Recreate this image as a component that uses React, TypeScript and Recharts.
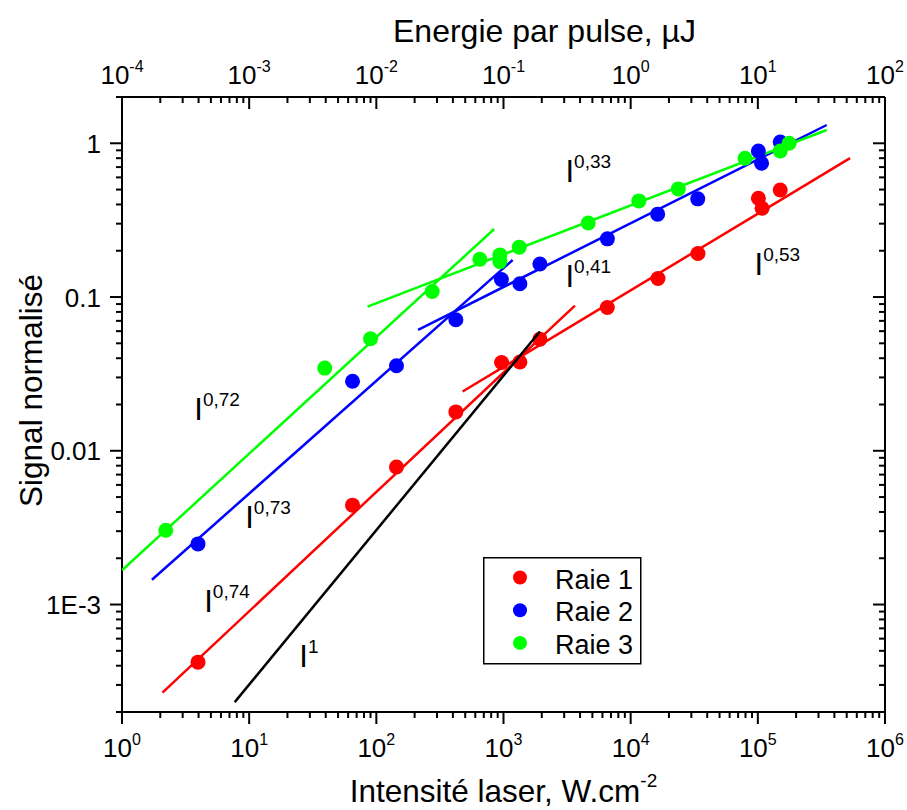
import React from 'react';
import { ScatterChart, Scatter, XAxis, YAxis, ReferenceDot, Legend } from 'recharts';

const FONT = '"Liberation Sans", Arial, Helvetica, sans-serif';

// ---- measured points (intensity W/cm², normalised signal) ----
const raie1 = [
  { x: 3.96, y: 4.22e-4 }, { x: 65, y: 4.43e-3 }, { x: 144, y: 7.85e-3 }, { x: 422, y: 0.0179 },
  { x: 966, y: 0.0375 }, { x: 1345, y: 0.0378 }, { x: 1933, y: 0.0532 }, { x: 6550, y: 0.0855 },
  { x: 16400, y: 0.132 }, { x: 33800, y: 0.192 }, { x: 101000, y: 0.439 }, { x: 108000, y: 0.378 },
  { x: 150000, y: 0.497 },
];
const raie2 = [
  { x: 3.96, y: 2.48e-3 }, { x: 65, y: 0.0283 }, { x: 144, y: 0.0357 }, { x: 422, y: 0.0711 },
  { x: 963, y: 0.13 }, { x: 1345, y: 0.122 }, { x: 1933, y: 0.164 }, { x: 6560, y: 0.239 },
  { x: 16300, y: 0.346 }, { x: 33700, y: 0.435 }, { x: 101000, y: 0.891 }, { x: 107000, y: 0.741 },
  { x: 150000, y: 1.02 },
];
const raie3 = [
  { x: 2.21, y: 3.04e-3 }, { x: 39.3, y: 0.0345 }, { x: 90, y: 0.0535 }, { x: 275, y: 0.1086 },
  { x: 652, y: 0.176 }, { x: 937, y: 0.188 }, { x: 937, y: 0.17 }, { x: 1330, y: 0.211 },
  { x: 4640, y: 0.303 }, { x: 11600, y: 0.422 }, { x: 23700, y: 0.505 }, { x: 79300, y: 0.8 },
  { x: 150000, y: 0.891 }, { x: 176000, y: 1.0 },
];

// ---- power-law fit segments (end points) ----
const fitRedLow = [{ x: 2.08, y: 2.67e-4 }, { x: 3645, y: 0.088 }];
const fitRedHigh = [{ x: 477, y: 0.0243 }, { x: 531000, y: 0.8 }];
const fitBlueLow = [{ x: 1.72, y: 1.45e-3 }, { x: 1180, y: 0.174 }];
const fitBlueHigh = [{ x: 213, y: 0.0612 }, { x: 348000, y: 1.315 }];
const fitGreenLow = [{ x: 1.0, y: 1.67e-3 }, { x: 845, y: 0.277 }];
const fitGreenHigh = [{ x: 85.3, y: 0.0867 }, { x: 348000, y: 1.22 }];
const fitLinear = [{ x: 7.7, y: 2.32e-4 }, { x: 1933, y: 0.0597 }];

// ---- slope annotations ----
const slopeLabels = [
  { x: 3070, y: 0.56, exp: '0,33' },
  { x: 3070, y: 0.1165, exp: '0,41' },
  { x: 94200, y: 0.1394, exp: '0,53' },
  { x: 3.7, y: 0.01592, exp: '0,72' },
  { x: 9.31, y: 3.16e-3, exp: '0,73' },
  { x: 4.43, y: 9.0e-4, exp: '0,74' },
  { x: 24.8, y: 3.9e-4, exp: '1' },
];

// ---- axes ----
const xDomain = [1, 1e6];
const topDomain = [1e-4, 1e2];
const yDomain = [2e-4, 2];
const xMajorTicks = [1, 10, 100, 1e3, 1e4, 1e5, 1e6];
const xMajorExponents = ['0', '1', '2', '3', '4', '5', '6'];
const topMajorTicks = [1e-4, 1e-3, 1e-2, 1e-1, 1, 10, 100];
const topMajorExponents = ['-4', '-3', '-2', '-1', '0', '1', '2'];
const yMajorTicks = [1e-3, 1e-2, 0.1, 1];
const yMajorLabels = ['1E-3', '0.01', '0.1', '1'];
const minorMultipliers = [1, 2, 3, 4, 5, 6, 7, 8, 9];

const legendItems = [
  { name: 'Raie 1', color: '#ff0000' },
  { name: 'Raie 2', color: '#0000ff' },
  { name: 'Raie 3', color: '#00ff00' },
];

function allTicks(majors: number[], lo: number, hi: number) {
  const decades = [majors[0] / 10, ...majors];
  const out: number[] = [];
  decades.forEach((d) =>
    minorMultipliers.forEach((m) => {
      const v = d * m;
      if (v >= lo * (1 - 1e-9) && v <= hi * (1 + 1e-9)) out.push(v);
    })
  );
  return out.sort((a, b) => a - b);
}

function majorIndex(v: number, majors: number[]) {
  return majors.findIndex((t) => Math.abs(Math.log10(t) - Math.log10(v)) < 1e-6);
}

const BIG = 12;
const SMALL = 6;
const TICK_FS = 26;
const EXP_FS = 16;

const BottomTick = (props: any) => {
  const { x, y, payload } = props;
  const idx = majorIndex(payload.value, xMajorTicks);
  const major = idx >= 0;
  return (
    <g>
      <line x1={x} y1={y} x2={x} y2={y + (major ? BIG : SMALL)} stroke="#000" strokeWidth={2} />
      {major && (
        <text x={x} y={y + 45} textAnchor="middle" fontFamily={FONT} fontSize={TICK_FS} fill="#000">
          10<tspan dy={-12} fontSize={EXP_FS}>{xMajorExponents[idx]}</tspan>
        </text>
      )}
    </g>
  );
};

const TopTick = (props: any) => {
  const { x, y, payload } = props;
  const idx = majorIndex(payload.value, topMajorTicks);
  const major = idx >= 0;
  return (
    <g>
      <line x1={x} y1={y} x2={x} y2={y + (major ? BIG : SMALL)} stroke="#000" strokeWidth={2} />
      {major && (
        <text x={x} y={y - 13} textAnchor="middle" fontFamily={FONT} fontSize={TICK_FS} fill="#000">
          10<tspan dy={-12} fontSize={EXP_FS}>{topMajorExponents[idx]}</tspan>
        </text>
      )}
    </g>
  );
};

const LeftTick = (props: any) => {
  const { x, y, payload } = props;
  const idx = majorIndex(payload.value, yMajorTicks);
  const major = idx >= 0;
  return (
    <g>
      <line x1={x} y1={y} x2={x - (major ? BIG : SMALL)} y2={y} stroke="#000" strokeWidth={2} />
      {major && (
        <text x={x - 21} y={y + 9.5} textAnchor="end" fontFamily={FONT} fontSize={TICK_FS} fill="#000">
          {yMajorLabels[idx]}
        </text>
      )}
    </g>
  );
};

const RightTick = (props: any) => {
  const { x, y, payload } = props;
  const major = majorIndex(payload.value, yMajorTicks) >= 0;
  return <line x1={x} y1={y} x2={x - (major ? BIG : SMALL)} y2={y} stroke="#000" strokeWidth={2} />;
};

const BottomTitle = (props: any) => {
  const { x, y, width } = props.viewBox;
  return (
    <text x={x + width / 2} y={y + 90} textAnchor="middle" fontFamily={FONT} fontSize={31.5} fill="#000">
      Intensité laser, W.cm<tspan dy={-15} fontSize={19}>-2</tspan>
    </text>
  );
};

const TopTitle = (props: any) => {
  const { x } = props.viewBox;
  return (
    <text x={x + 271} y={42} textAnchor="start" fontFamily={FONT} fontSize={32} fill="#000">
      Energie par pulse, µJ
    </text>
  );
};

const LeftTitle = (props: any) => {
  const { y, height } = props.viewBox;
  const cy = y + height / 2 - 14;
  return (
    <text
      x={42}
      y={cy}
      transform={`rotate(-90, 42, ${cy})`}
      textAnchor="middle"
      fontFamily={FONT}
      fontSize={31.5}
      fill="#000"
    >
      Signal normalisé
    </text>
  );
};

const makeDot = (color: string) => (props: any) =>
  <circle cx={props.cx} cy={props.cy} r={7.5} fill={color} />;
const NoShape = () => <g />;

const SlopeLabel = (exp: string) => (props: any) => {
  const vb = props.viewBox || {};
  const x = vb.x + (vb.width || 0) / 2;
  const y = vb.y + (vb.height || 0) / 2;
  return (
    <text x={x} y={y} fontFamily={FONT} fontSize={31} fill="#000">
      I<tspan dy={-14} fontSize={19}>{exp}</tspan>
    </text>
  );
};

const LegendBox = () => (
  <svg width={159} height={108} style={{ display: 'block' }}>
    <rect x={0.75} y={0.75} width={157} height={106} fill="#fff" stroke="#000" strokeWidth={1.5} />
    {legendItems.map((it, i) => (
      <g key={it.name}>
        <circle cx={37} cy={20.5 + i * 32.7} r={7} fill={it.color} />
        <text x={72} y={31.5 + i * 32.7} fontFamily={FONT} fontSize={27} fill="#000">
          {it.name}
        </text>
      </g>
    ))}
  </svg>
);

const lineStyle = (c: string) => ({ stroke: c, strokeWidth: 2.5 });

export default function App() {
  return (
    <div style={{ position: 'absolute', left: 0, top: 0, width: 907, height: 810, background: '#fff' }}>
      <ScatterChart width={907} height={810} margin={{ top: 0, right: 0, bottom: 0, left: 0 }}>
        <XAxis
          xAxisId={0}
          dataKey="x"
          type="number"
          scale="log"
          domain={xDomain}
          allowDataOverflow
          ticks={allTicks(xMajorTicks, xDomain[0], xDomain[1])}
          interval={0}
          tick={BottomTick}
          tickLine={false}
          tickSize={0}
          tickMargin={0}
          axisLine={{ stroke: '#000', strokeWidth: 2 }}
          height={98}
          orientation="bottom"
          label={BottomTitle}
        />
        <XAxis
          xAxisId="top"
          dataKey="x"
          type="number"
          scale="log"
          domain={topDomain}
          allowDataOverflow
          ticks={allTicks(topMajorTicks, topDomain[0], topDomain[1])}
          interval={0}
          tick={TopTick}
          tickLine={false}
          tickSize={0}
          tickMargin={0}
          axisLine={{ stroke: '#000', strokeWidth: 2 }}
          height={97}
          orientation="top"
          label={TopTitle}
        />
        <YAxis
          yAxisId={0}
          dataKey="y"
          type="number"
          scale="log"
          domain={yDomain}
          allowDataOverflow
          ticks={allTicks(yMajorTicks, yDomain[0], yDomain[1])}
          interval={0}
          tick={LeftTick}
          tickLine={false}
          tickSize={0}
          tickMargin={0}
          axisLine={{ stroke: '#000', strokeWidth: 2 }}
          width={122}
          orientation="left"
          label={LeftTitle}
        />
        <YAxis
          yAxisId="right"
          dataKey="y"
          type="number"
          scale="log"
          domain={yDomain}
          allowDataOverflow
          ticks={allTicks(yMajorTicks, yDomain[0], yDomain[1])}
          interval={0}
          tick={RightTick}
          tickLine={false}
          tickSize={0}
          tickMargin={0}
          axisLine={{ stroke: '#000', strokeWidth: 2 }}
          width={22}
          orientation="right"
        />
        <Legend
          layout="vertical"
          verticalAlign="middle"
          align="center"
          wrapperStyle={{ position: 'absolute', left: 483, top: 557, width: 159, height: 108 }}
          content={LegendBox}
        />

        <Scatter name="fitRedLow" data={fitRedLow} fill="#ff0000" line={lineStyle('#ff0000')} lineType="joint" shape={NoShape} isAnimationActive={false} legendType="none" />
        <Scatter name="fitRedHigh" data={fitRedHigh} fill="#ff0000" line={lineStyle('#ff0000')} lineType="joint" shape={NoShape} isAnimationActive={false} legendType="none" />
        <Scatter name="fitBlueLow" data={fitBlueLow} fill="#0000ff" line={lineStyle('#0000ff')} lineType="joint" shape={NoShape} isAnimationActive={false} legendType="none" />
        <Scatter name="fitBlueHigh" data={fitBlueHigh} fill="#0000ff" line={lineStyle('#0000ff')} lineType="joint" shape={NoShape} isAnimationActive={false} legendType="none" />
        <Scatter name="fitGreenLow" data={fitGreenLow} fill="#00ff00" line={lineStyle('#00ff00')} lineType="joint" shape={NoShape} isAnimationActive={false} legendType="none" />
        <Scatter name="fitGreenHigh" data={fitGreenHigh} fill="#00ff00" line={lineStyle('#00ff00')} lineType="joint" shape={NoShape} isAnimationActive={false} legendType="none" />

        <Scatter name="Raie 1" data={raie1} fill="#ff0000" shape={makeDot('#ff0000')} isAnimationActive={false} />
        <Scatter name="Raie 2" data={raie2} fill="#0000ff" shape={makeDot('#0000ff')} isAnimationActive={false} />
        <Scatter name="Raie 3" data={raie3} fill="#00ff00" shape={makeDot('#00ff00')} isAnimationActive={false} />

        <Scatter name="fitLinear" data={fitLinear} fill="#000" line={lineStyle('#000')} lineType="joint" shape={NoShape} isAnimationActive={false} legendType="none" />

        {slopeLabels.map((s) => (
          <ReferenceDot
            key={s.exp}
            x={s.x}
            y={s.y}
            r={0}
            fill="none"
            stroke="none"
            label={SlopeLabel(s.exp)}
          />
        ))}
      </ScatterChart>
    </div>
  );
}
